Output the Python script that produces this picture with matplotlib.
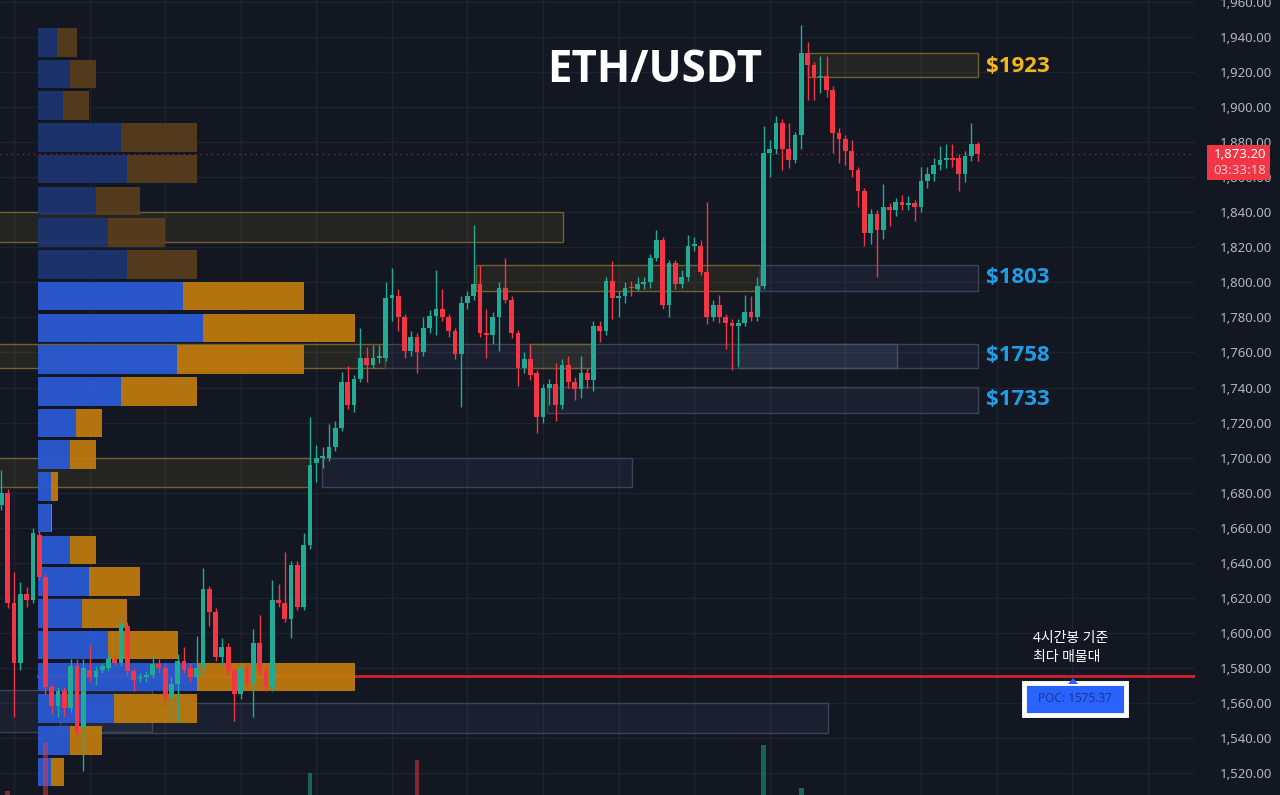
import matplotlib
matplotlib.use('Agg')
import matplotlib.pyplot as plt
import numpy as np
from matplotlib.patches import Rectangle, Polygon
from matplotlib import transforms

plt.rcParams['font.family'] = ['Noto Sans', 'Noto Sans CJK KR', 'DejaVu Sans']
BOLD_FONT = ['Open Sans', 'Roboto', 'DejaVu Sans']

# ---- 4h candles (ETH/USDT) ----
opens = [1673, 1680, 1617, 1583, 1622, 1619, 1656, 1632, 1569, 1558,
         1567, 1557, 1581, 1546, 1579, 1575, 1579, 1580, 1585, 1583,
         1604, 1578, 1574, 1575, 1576, 1582, 1580, 1563, 1571, 1584,
         1580, 1575, 1580, 1625, 1612, 1586, 1592, 1578, 1565, 1580,
         1571, 1594, 1578, 1569, 1619, 1617, 1608, 1639, 1615, 1650,
         1697, 1700, 1700, 1706, 1717, 1743, 1730, 1745, 1757, 1753,
         1757, 1757, 1791, 1792, 1780, 1761, 1769, 1760, 1774, 1781,
         1785, 1780, 1772, 1759, 1788, 1792, 1799, 1771, 1770, 1780,
         1797, 1790, 1771, 1751, 1756, 1748, 1723, 1740, 1742, 1730,
         1753, 1743, 1739, 1748, 1744, 1775, 1772, 1801, 1791, 1792,
         1797, 1796, 1799, 1800, 1814, 1824, 1787, 1811, 1799, 1803,
         1821, 1821, 1806, 1780, 1787, 1780, 1777, 1775, 1777, 1783,
         1780, 1798, 1874, 1876, 1891, 1876, 1870, 1884, 1931, 1924,
         1917, 1918, 1910, 1885, 1882, 1875, 1864, 1852, 1828, 1839,
         1830, 1843, 1841, 1846, 1844, 1845, 1843, 1858, 1862, 1867,
         1870, 1871, 1871, 1862, 1872, 1879]
highs = [1693, 1682, 1635, 1629, 1626, 1660, 1658, 1634, 1571, 1569,
         1569, 1585, 1585, 1585, 1593, 1581, 1583, 1588, 1587, 1609,
         1606, 1580, 1577, 1578, 1588, 1585, 1582, 1575, 1588, 1592,
         1583, 1598, 1637, 1627, 1614, 1597, 1594, 1580, 1583, 1582,
         1602, 1610, 1581, 1630, 1628, 1646, 1641, 1641, 1657, 1723,
         1707, 1706, 1719, 1721, 1749, 1752, 1747, 1774, 1763, 1764,
         1764, 1800, 1808, 1796, 1782, 1772, 1771, 1780, 1784, 1807,
         1796, 1782, 1774, 1792, 1795, 1833, 1810, 1785, 1783, 1800,
         1814, 1792, 1773, 1760, 1765, 1750, 1742, 1745, 1754, 1756,
         1758, 1746, 1758, 1751, 1778, 1778, 1803, 1812, 1795, 1800,
         1801, 1803, 1803, 1816, 1830, 1826, 1813, 1813, 1807, 1827,
         1826, 1824, 1846, 1790, 1793, 1782, 1779, 1779, 1793, 1792,
         1803, 1889, 1881, 1895, 1893, 1891, 1886, 1947, 1937, 1926,
         1929, 1929, 1912, 1888, 1884, 1881, 1866, 1854, 1842, 1841,
         1856, 1845, 1848, 1850, 1849, 1847, 1866, 1866, 1871, 1878,
         1879, 1879, 1873, 1875, 1891, 1880]
lows = [1670, 1614, 1552, 1579, 1615, 1617, 1630, 1565, 1554, 1552,
        1552, 1555, 1541, 1521, 1572, 1570, 1577, 1578, 1581, 1581,
        1576, 1567, 1572, 1572, 1574, 1577, 1558, 1550, 1550, 1577,
        1572, 1573, 1576, 1604, 1584, 1581, 1576, 1550, 1562, 1569,
        1552, 1576, 1567, 1567, 1615, 1606, 1597, 1613, 1613, 1648,
        1686, 1694, 1698, 1704, 1715, 1728, 1726, 1743, 1743, 1751,
        1754, 1755, 1778, 1772, 1757, 1758, 1748, 1758, 1771, 1770,
        1778, 1769, 1756, 1729, 1785, 1790, 1769, 1757, 1765, 1761,
        1788, 1768, 1741, 1748, 1744, 1714, 1720, 1730, 1721, 1728,
        1740, 1733, 1734, 1740, 1738, 1766, 1770, 1779, 1780, 1788,
        1792, 1795, 1796, 1797, 1812, 1785, 1780, 1796, 1797, 1801,
        1818, 1804, 1776, 1778, 1777, 1762, 1750, 1752, 1775, 1778,
        1778, 1796, 1860, 1873, 1864, 1865, 1868, 1876, 1904, 1904,
        1908, 1906, 1874, 1868, 1867, 1860, 1843, 1821, 1822, 1803,
        1825, 1832, 1838, 1841, 1841, 1835, 1840, 1854, 1858, 1864,
        1865, 1866, 1852, 1857, 1869, 1869]
closes = [1680, 1617, 1583, 1622, 1619, 1657, 1632, 1569, 1558, 1567,
          1557, 1581, 1543, 1580, 1575, 1578, 1581, 1585, 1583, 1605,
          1578, 1573, 1575, 1576, 1582, 1580, 1563, 1571, 1584, 1579,
          1575, 1580, 1625, 1612, 1586, 1592, 1578, 1565, 1580, 1571,
          1594, 1578, 1569, 1619, 1617, 1608, 1639, 1615, 1650, 1696,
          1700, 1700.5, 1706, 1717, 1743, 1730, 1745, 1757, 1753, 1757,
          1758, 1791, 1793, 1780, 1761, 1769, 1760, 1774, 1781, 1785,
          1780, 1772, 1759, 1788, 1792, 1799, 1771, 1770, 1780, 1797,
          1790, 1771, 1751, 1756, 1747, 1723, 1740, 1742, 1730, 1753,
          1743, 1739, 1748, 1744, 1775, 1772, 1801, 1791, 1792, 1797,
          1796.5, 1799, 1800, 1814, 1824, 1787, 1811, 1799, 1803, 1821,
          1822, 1806, 1780, 1787, 1780, 1777, 1775, 1777, 1783, 1780,
          1798, 1874, 1876, 1891, 1876, 1870, 1884, 1931, 1924, 1917,
          1918, 1910, 1885, 1882, 1875, 1864, 1852, 1828, 1839, 1830,
          1843, 1841, 1846, 1844, 1845, 1843, 1858, 1862, 1867, 1870,
          1871, 1870, 1862, 1872, 1879, 1873.2]

# volume spikes poking up from the (cut-off) volume pane
vol_idx = [1, 7, 49, 66, 121, 127]
vol_val = [4, 52, 22, 35, 50, 7]

# ---- volume profile (top row first) ----
vp_top = 1946.0
vp_step = 18.1
vp_buy = [19, 32, 25, 83, 89, 58, 70, 89, 145, 165, 139, 83,
          38, 32, 13, 13, 32, 51, 44, 70, 159, 76, 32, 13]
vp_sell = [20, 26, 26, 76, 70, 44, 57, 70, 121, 152, 127, 76,
           26, 26, 7, 1, 26, 51, 45, 70, 158, 83, 32, 13]
va_first_row = 8
poc = 1575.37
last_price = 1873.20
countdown = '03:33:18'

# ---- zones: (start bar, end bar, low, high, type) ----
zones = [
    (-0.5, 89.1, 1823, 1840, 'supply'),
    (-0.5, 60.9, 1751, 1765, 'supply'),
    (-0.5, 49.0, 1683, 1700, 'supply'),
    (128.0, 155.0, 1917, 1931, 'supply'),
    (75.3, 120.4, 1795, 1810, 'supply'),
    (120.4, 155.0, 1795, 1810, 'demand'),
    (60.9, 155.0, 1751, 1765, 'demand'),
    (83.9, 93.7, 1751, 1765, 'supply'),
    (116.9, 142.2, 1751, 1765, 'demand2'),
    (86.6, 155.0, 1725.5, 1740.3, 'demand'),
    (50.9, 100.1, 1683, 1700, 'demand'),
    (-0.5, 23.9, 1543.4, 1567.4, 'demand'),
    (9.3, 131.2, 1543, 1560, 'demand'),
]
zone_labels = [('$1923', 1923, '#f5b51f'), ('$1803', 1803, '#1f9de6'),
               ('$1758', 1758, '#1f9de6'), ('$1733', 1733, '#1f9de6')]

BG = '#131722'
GREEN = '#22ab94'
RED = '#f23645'

fig = plt.figure(figsize=(12.8, 7.95), dpi=100, facecolor=BG)
ax = fig.add_axes([0, 0, 1195 / 1280, 1])
ax.set_facecolor(BG)
n = len(opens)
x = np.arange(n)
ax.set_xlim(-0.22, 189.5)
ax.set_ylim(1507.5, 1961.1)

# grid
for gx in np.arange(2, 190, 12):
    ax.axvline(gx, color='#1e2230', lw=1, zorder=0)
for gy in np.arange(1520, 1961, 20):
    ax.axhline(gy, color='#1e2230', lw=1, zorder=0)

# zones
for x0, x1, lo, hi, kind in zones:
    if kind == 'supply':
        fc, ec, a = '#f0c828', '#6e6230', 0.08
    elif kind == 'demand2':
        fc, ec, a = '#7a9cc8', '#46526a', 0.12
    else:
        fc, ec, a = '#5a78aa', '#3a4457', 0.10
    ax.add_patch(Rectangle((x0, lo), x1 - x0, hi - lo, facecolor=fc, alpha=a,
                           edgecolor='none', zorder=1))
    ax.add_patch(Rectangle((x0, lo), x1 - x0, hi - lo, facecolor='none',
                           edgecolor=ec, lw=1, zorder=1.1))

# POC line (under the profile bars)
blend = transforms.blended_transform_factory(ax.transAxes, ax.transData)
ax.plot([38 / 1195, 1.0], [poc, poc], color='#d3212d', lw=2, transform=blend, zorder=1.5)

# volume profile
vp_rows = vp_top - vp_step * (np.arange(len(vp_buy)) + 0.5)
unit = 1 / 1195
for i, (yc, b, s) in enumerate(zip(vp_rows, vp_buy, vp_sell)):
    bright = i >= va_first_row
    cb = '#2a5bd7' if bright else '#1c3470'
    cs = '#c27c0e' if bright else '#5a3e1c'
    ax.barh(yc, b * unit, left=38 / 1195, height=vp_step * 0.9, color=cb,
            transform=blend, zorder=2, alpha=0.92)
    ax.barh(yc, s * unit, left=(38 + b) / 1195, height=vp_step * 0.9, color=cs,
            transform=blend, zorder=2, alpha=0.92)

# volume bars
vol_colors = [GREEN if closes[i] >= opens[i] else RED for i in vol_idx]
vax = fig.add_axes([0, 0, 1195 / 1280, 1])
vax.set_facecolor('none')
vax.set_xlim(ax.get_xlim())
vax.set_ylim(0, 795)
vax.bar(vol_idx, vol_val, width=0.75, color=vol_colors, alpha=0.5)
vax.axis('off')

# candles
o = np.array(opens); c = np.array(closes)
h = np.array(highs); l = np.array(lows)
up = c >= o
cols = np.where(up, GREEN, RED)
ax.vlines(x, l, h, colors=cols, lw=1, zorder=3)
body = np.maximum(np.abs(c - o), 0.7)
ax.bar(x, body, bottom=np.minimum(o, c), width=0.75, color=cols, zorder=3.1)

# last price dotted line
ax.axhline(last_price, color=RED, lw=1, ls=(0, (1, 3)), alpha=0.5, zorder=1)

# zone labels
for txt, yv, col in zone_labels:
    ax.text(156.3, yv, txt, color=col, fontsize=16, fontweight='bold',
            family=BOLD_FONT, va='center', ha='left', zorder=5)

# title
ax.text(655 / 1195, 1 - 70 / 795, 'ETH/USDT', transform=ax.transAxes, color='white',
        fontsize=31.5, fontweight='bold', family=BOLD_FONT, ha='center', va='center',
        zorder=5)

# POC annotation
ax.text(1033 / 1195, 1 - 648 / 795, '4시간봉 기준\n최다 매물대', transform=ax.transAxes,
        color='white', fontsize=10, ha='left', va='center', linespacing=1.3, zorder=5)
fig.patches.append(Rectangle((1024 / 1280, 1 - 715 / 795), 102 / 1280, 32 / 795,
                             transform=fig.transFigure, facecolor='#2962ff',
                             edgecolor='white', lw=3.5, zorder=6))
fig.patches.append(Polygon([[1068 / 1280, 1 - 684 / 795], [1078 / 1280, 1 - 684 / 795],
                            [1073 / 1280, 1 - 678 / 795]], closed=True,
                           transform=fig.transFigure, facecolor='#2962ff', zorder=6))
fig.text(1075 / 1280, 1 - 699 / 795, f'POC: {poc:.2f}', color='#1b3a8c', fontsize=8.5,
         ha='center', va='center', zorder=7)

# price scale
ax.yaxis.tick_right()
ticks = np.arange(1520, 1961, 20)
ax.set_yticks(ticks)
ax.set_yticklabels([f'{t:,.2f}' for t in ticks])
ax.tick_params(axis='y', length=0, pad=18, labelcolor='#b2b5be', labelsize=9.5)
ax.set_xticks([])
for sp in ax.spines.values():
    sp.set_visible(False)

# last price tag
fig.patches.append(Rectangle((1207 / 1280, 1 - 180 / 795), 63 / 1280, 35 / 795,
                             transform=fig.transFigure, facecolor=RED,
                             edgecolor='none', zorder=6))
fig.text(1266 / 1280, 1 - 155 / 795, f'{last_price:,.2f}', color='white', fontsize=9.5,
         fontweight='bold', ha='right', va='center', zorder=7)
fig.text(1266 / 1280, 1 - 171 / 795, countdown, color='#ffc6cb', fontsize=9.5,
         ha='right', va='center', zorder=7)

fig.savefig('out.png', dpi=100, facecolor=BG)
